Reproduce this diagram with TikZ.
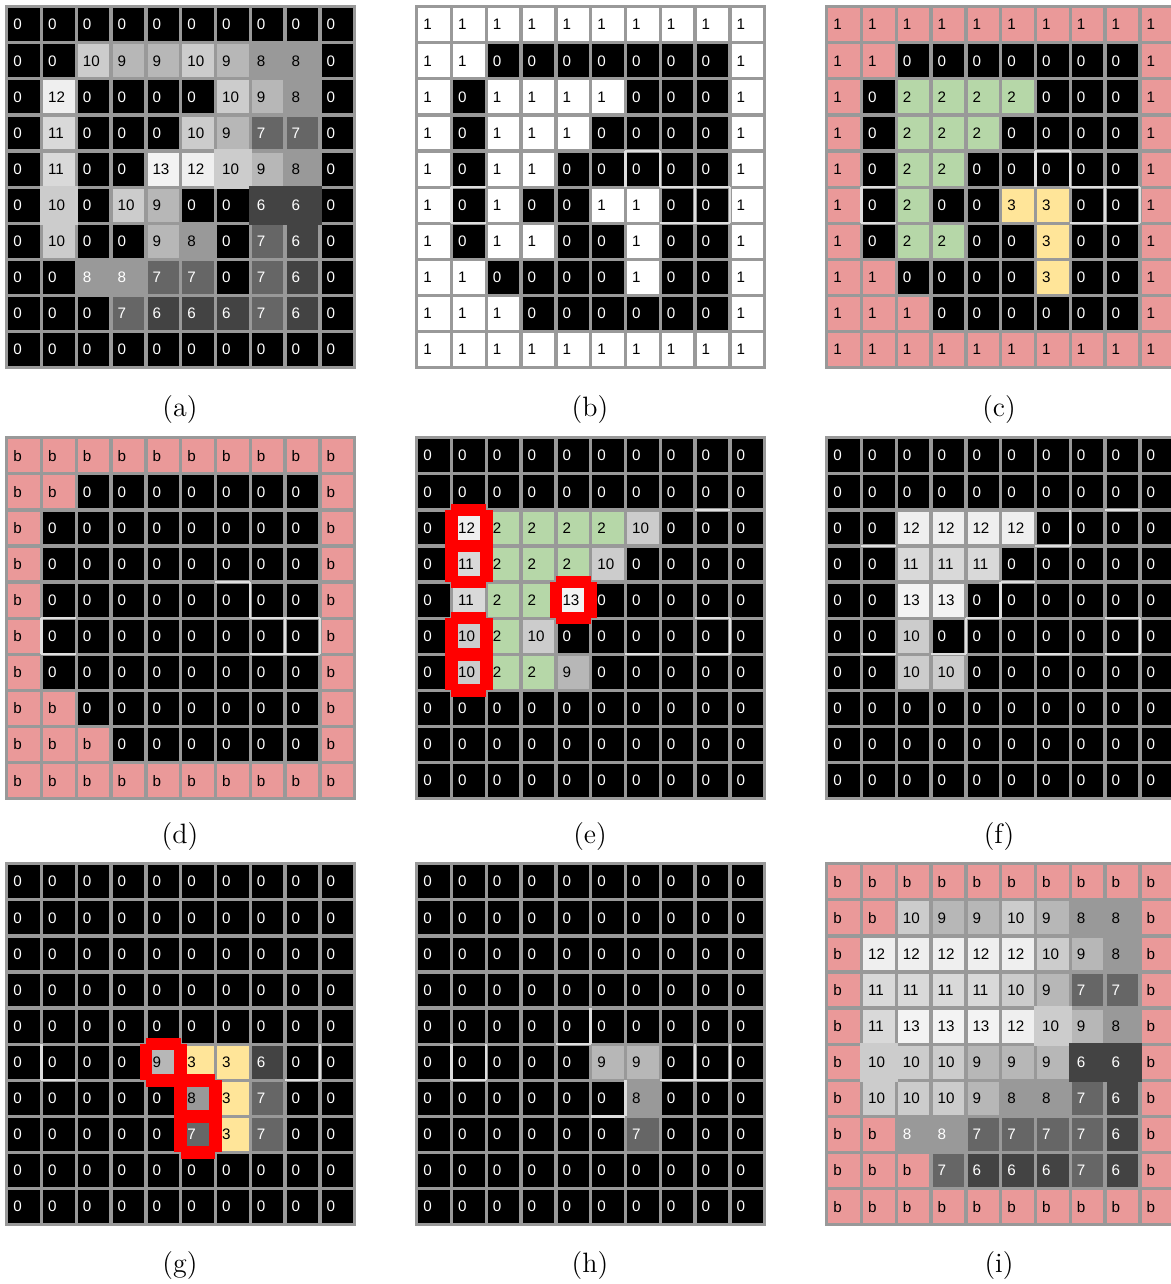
\documentclass[tikz,border=0pt]{standalone}
\usepackage{fontspec}
\newfontfamily\cellfnt{Liberation Sans}
\definecolor{gridgray}{HTML}{999999}
\definecolor{pinkc}{HTML}{EA9999}
\definecolor{greenc}{HTML}{B6D7A8}
\definecolor{yellowc}{HTML}{FFE599}
\definecolor{g6}{HTML}{434343}
\definecolor{g7}{HTML}{666666}
\definecolor{g8}{HTML}{999999}
\definecolor{g9}{HTML}{B7B7B7}
\definecolor{g10}{HTML}{CCCCCC}
\definecolor{g11}{HTML}{D9D9D9}
\definecolor{g12}{HTML}{EFEFEF}
\definecolor{g13}{HTML}{F3F3F3}
\definecolor{lightln}{HTML}{DEDEDE}
\def\tokW{W}
\def\tokP{P}
\tikzset{
  cell/.style={anchor=west, minimum width=15.75pt, minimum height=16.4pt,
    inner xsep=2.5pt, inner ysep=0pt, text width=10.75pt, align=left,
    font=\cellfnt\fontsize{7.6pt}{8.6pt}\selectfont, outer sep=0pt},
  cs-0/.style={fill=black, text=white},
  cs-1/.style={fill=white, text=black},
  cs-P/.style={fill=pinkc, text=black},
  cs-b/.style={fill=pinkc, text=black},
  cs-2/.style={fill=greenc, text=black},
  cs-3/.style={fill=yellowc, text=black},
  cs-6/.style={fill=g6, text=white},
  cs-7/.style={fill=g7, text=white},
  cs-8/.style={fill=g8, text=black},
  cs-W/.style={fill=g8, text=white},
  cs-9/.style={fill=g9, text=black},
  cs-10/.style={fill=g10, text=black},
  cs-11/.style={fill=g11, text=black},
  cs-12/.style={fill=g12, text=black},
  cs-13/.style={fill=g13, text=black},
  redline/.style={draw=red, line width=6.25pt, line cap=butt},
  lightseg/.style={draw=lightln, line width=1.2pt, line cap=butt},
  lbl/.style={font=\fontsize{14pt}{16pt}\selectfont, inner sep=0pt}
}
% #1 name, #2 x0, #3 y0, #4 rows, #5 code drawn under the cells
\newcommand\mkgrid[5]{%
  \fill[gridgray] (#2,#3) rectangle ++(351,364.3);
  \def\gx{#2}\def\gy{#3}#5%
  \foreach \row [count=\r] in {#4}{%
    \foreach \v [count=\c] in \row{%
      \pgfmathsetmacro\cx{#2+3.3+(\c-1)*34.8}%
      \pgfmathsetmacro\cy{#3+3.3+(\r-1)*36.1+16.4}%
      \edef\tmp{\v}%
      \let\celltxt\tmp
      \ifx\tmp\tokW\def\celltxt{8}\fi
      \ifx\tmp\tokP\def\celltxt{1}\fi
      \edef\doit{\noexpand\node[cell,cs-\tmp] (#1-\r-\c) at (\cx,\cy) {\celltxt};}%
      \doit
    }%
  }%
}
% borderless cell: #1 row, #2 col, #3 colour (uses \gx,\gy)
\newcommand\nob[3]{%
  \pgfmathsetmacro\nbl{\gx+(#2-1)*34.8}%
  \pgfmathsetmacro\nbt{\gy+(#1-1)*36.1}%
  \fill[#3] (\nbl,\nbt) rectangle ++(38.1,39.4);
}
% light horizontal segment on row line #3, column #4 ; vertical on column line #3, row #4
\newcommand\hh[4]{%
  \pgfmathsetmacro\sxa{#1+1.65+(#4-1)*34.8}%
  \pgfmathsetmacro\sya{#2+1.65+#3*36.1}%
  \draw[lightseg] (\sxa,\sya) -- ++(34.8,0);
}
\newcommand\vv[4]{%
  \pgfmathsetmacro\sxa{#1+1.65+#3*34.8}%
  \pgfmathsetmacro\sya{#2+1.65+(#4-1)*36.1}%
  \draw[lightseg] (\sxa,\sya) -- ++(0,36.1);
}
\newcommand\redbox[4]{%
  \pgfmathsetmacro\rbl{#1+1.65+(#4-1)*34.8}%
  \pgfmathsetmacro\rbr{\rbl+34.8}%
  \pgfmathsetmacro\rbt{#2+1.65+(#3-1)*36.1}%
  \pgfmathsetmacro\rbb{\rbt+36.1}%
  \draw[redline] (\rbl,\rbt) -- (\rbr,\rbt);
  \draw[redline] (\rbl,\rbb) -- (\rbr,\rbb);
  \draw[redline] (\rbl,\rbt) -- (\rbl,\rbb);
  \draw[redline] (\rbr,\rbt) -- (\rbr,\rbb);
}
\newcommand\bcdlines[3]{% #1 x0 #2 y0 #3 with left of r5c7 (1/0)
  \hh{#1}{#2}{5}{2}\hh{#1}{#2}{6}{2}\vv{#1}{#2}{1}{6}%
  \hh{#1}{#2}{4}{7}\vv{#1}{#2}{7}{5}%
  \ifnum#3=1 \vv{#1}{#2}{6}{5}\fi
  \hh{#1}{#2}{5}{8}\hh{#1}{#2}{6}{8}\hh{#1}{#2}{5}{9}\hh{#1}{#2}{6}{9}%
  \vv{#1}{#2}{8}{6}\vv{#1}{#2}{9}{6}%
}
\begin{document}
\begin{tikzpicture}[x=0.5pt,y=-0.5pt]
\useasboundingbox (0,0) rectangle (1171,1284);
% (a)
\mkgrid{a}{5}{5}{
{0,0,0,0,0,0,0,0,0,0},
{0,0,10,9,9,10,9,8,8,0},
{0,12,0,0,0,0,10,9,8,0},
{0,11,0,0,0,10,9,7,7,0},
{0,11,0,0,13,12,10,9,8,0},
{0,10,0,10,9,0,0,6,6,0},
{0,10,0,0,9,8,0,7,6,0},
{0,0,W,W,7,7,0,7,6,0},
{0,0,0,7,6,6,6,7,6,0},
{0,0,0,0,0,0,0,0,0,0}}{\nob{6}{2}{g10}\nob{5}{7}{g10}\nob{6}{8}{g6}\nob{6}{9}{g6}}
% (b)
\mkgrid{b}{415}{5}{
{1,1,1,1,1,1,1,1,1,1},
{1,1,0,0,0,0,0,0,0,1},
{1,0,1,1,1,1,0,0,0,1},
{1,0,1,1,1,0,0,0,0,1},
{1,0,1,1,0,0,0,0,0,1},
{1,0,1,0,0,1,1,0,0,1},
{1,0,1,1,0,0,1,0,0,1},
{1,1,0,0,0,0,1,0,0,1},
{1,1,1,0,0,0,0,0,0,1},
{1,1,1,1,1,1,1,1,1,1}}{}
% (c)
\mkgrid{c}{825}{5}{
{P,P,P,P,P,P,P,P,P,P},
{P,P,0,0,0,0,0,0,0,P},
{P,0,2,2,2,2,0,0,0,P},
{P,0,2,2,2,0,0,0,0,P},
{P,0,2,2,0,0,0,0,0,P},
{P,0,2,0,0,3,3,0,0,P},
{P,0,2,2,0,0,3,0,0,P},
{P,P,0,0,0,0,3,0,0,P},
{P,P,P,0,0,0,0,0,0,P},
{P,P,P,P,P,P,P,P,P,P}}{}
% (d)
\mkgrid{d}{5}{436}{
{b,b,b,b,b,b,b,b,b,b},
{b,b,0,0,0,0,0,0,0,b},
{b,0,0,0,0,0,0,0,0,b},
{b,0,0,0,0,0,0,0,0,b},
{b,0,0,0,0,0,0,0,0,b},
{b,0,0,0,0,0,0,0,0,b},
{b,0,0,0,0,0,0,0,0,b},
{b,b,0,0,0,0,0,0,0,b},
{b,b,b,0,0,0,0,0,0,b},
{b,b,b,b,b,b,b,b,b,b}}{}
% (e)
\mkgrid{e}{415}{436}{
{0,0,0,0,0,0,0,0,0,0},
{0,0,0,0,0,0,0,0,0,0},
{0,12,2,2,2,2,10,0,0,0},
{0,11,2,2,2,10,0,0,0,0},
{0,11,2,2,13,0,0,0,0,0},
{0,10,2,10,0,0,0,0,0,0},
{0,10,2,2,9,0,0,0,0,0},
{0,0,0,0,0,0,0,0,0,0},
{0,0,0,0,0,0,0,0,0,0},
{0,0,0,0,0,0,0,0,0,0}}{}
% (f)
\mkgrid{f}{825}{436}{
{0,0,0,0,0,0,0,0,0,0},
{0,0,0,0,0,0,0,0,0,0},
{0,0,12,12,12,12,0,0,0,0},
{0,0,11,11,11,0,0,0,0,0},
{0,0,13,13,0,0,0,0,0,0},
{0,0,10,0,0,0,0,0,0,0},
{0,0,10,10,0,0,0,0,0,0},
{0,0,0,0,0,0,0,0,0,0},
{0,0,0,0,0,0,0,0,0,0},
{0,0,0,0,0,0,0,0,0,0}}{}
% (g)
\mkgrid{g}{5}{862}{
{0,0,0,0,0,0,0,0,0,0},
{0,0,0,0,0,0,0,0,0,0},
{0,0,0,0,0,0,0,0,0,0},
{0,0,0,0,0,0,0,0,0,0},
{0,0,0,0,0,0,0,0,0,0},
{0,0,0,0,9,3,3,6,0,0},
{0,0,0,0,0,8,3,7,0,0},
{0,0,0,0,0,7,3,7,0,0},
{0,0,0,0,0,0,0,0,0,0},
{0,0,0,0,0,0,0,0,0,0}}{}
% (h)
\mkgrid{h}{415}{862}{
{0,0,0,0,0,0,0,0,0,0},
{0,0,0,0,0,0,0,0,0,0},
{0,0,0,0,0,0,0,0,0,0},
{0,0,0,0,0,0,0,0,0,0},
{0,0,0,0,0,0,0,0,0,0},
{0,0,0,0,0,9,9,0,0,0},
{0,0,0,0,0,0,8,0,0,0},
{0,0,0,0,0,0,7,0,0,0},
{0,0,0,0,0,0,0,0,0,0},
{0,0,0,0,0,0,0,0,0,0}}{}
% (i)
\mkgrid{i}{825}{862}{
{b,b,b,b,b,b,b,b,b,b},
{b,b,10,9,9,10,9,8,8,b},
{b,12,12,12,12,12,10,9,8,b},
{b,11,11,11,11,10,9,7,7,b},
{b,11,13,13,13,12,10,9,8,b},
{b,10,10,10,9,9,9,6,6,b},
{b,10,10,10,9,8,8,7,6,b},
{b,b,W,W,7,7,7,7,6,b},
{b,b,b,7,6,6,6,7,6,b},
{b,b,b,b,b,b,b,b,b,b}}{\nob{6}{2}{g10}\nob{5}{7}{g10}\nob{6}{8}{g6}\nob{6}{9}{g6}}
% faint light cell borders
\bcdlines{415}{5}{1}
\bcdlines{825}{5}{1}
\bcdlines{5}{436}{0}
\hh{415}{436}{2}{9}\hh{415}{436}{5}{9}\vv{415}{436}{9}{6}\hh{415}{436}{6}{7}\hh{415}{436}{6}{9}
\hh{825}{436}{2}{9}\hh{825}{436}{3}{2}\vv{825}{436}{7}{3}\hh{825}{436}{3}{7}
\hh{825}{436}{4}{6}\vv{825}{436}{5}{5}\hh{825}{436}{5}{5}\vv{825}{436}{4}{6}
\hh{825}{436}{6}{2}\hh{825}{436}{6}{4}\hh{825}{436}{6}{7}\hh{825}{436}{6}{9}
\hh{825}{436}{5}{9}\vv{825}{436}{9}{6}
\vv{5}{862}{1}{6}\hh{5}{862}{6}{2}\hh{5}{862}{6}{9}\vv{5}{862}{9}{6}
\hh{415}{862}{5}{5}\vv{415}{862}{5}{5}
\vv{415}{862}{1}{6}\vv{415}{862}{2}{6}\hh{415}{862}{6}{2}
\hh{415}{862}{6}{8}\vv{415}{862}{8}{6}\vv{415}{862}{9}{6}\hh{415}{862}{6}{9}
\vv{415}{862}{6}{7}\hh{415}{862}{7}{6}
% red highlights
\redbox{415}{436}{3}{2}
\redbox{415}{436}{4}{2}
\redbox{415}{436}{5}{5}
\redbox{415}{436}{6}{2}
\redbox{415}{436}{7}{2}
\redbox{5}{862}{6}{5}
\redbox{5}{862}{7}{6}
\redbox{5}{862}{8}{6}
% labels
\node[lbl] (la) at (180,410) {(a)};
\node[lbl] (lb) at (590,410) {(b)};
\node[lbl] (lc) at (999,410) {(c)};
\node[lbl] (ld) at (180,837) {(d)};
\node[lbl] (le) at (590,837) {(e)};
\node[lbl] (lf) at (999,837) {(f)};
\node[lbl] (lg) at (180,1265) {(g)};
\node[lbl] (lh) at (590,1265) {(h)};
\node[lbl] (li) at (999,1265) {(i)};
\end{tikzpicture}
\end{document}
